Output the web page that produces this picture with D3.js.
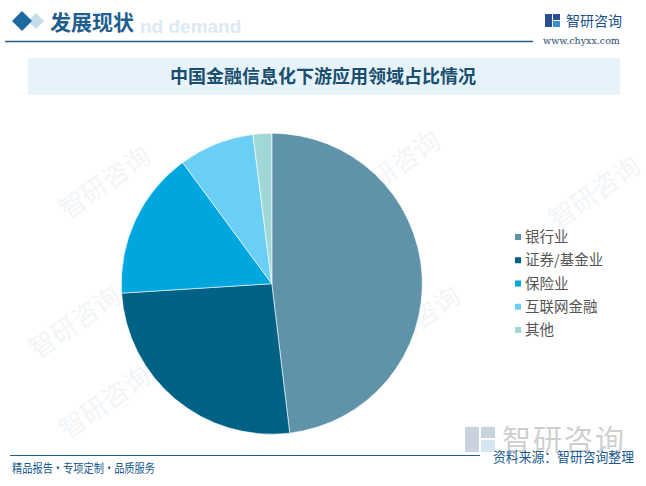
<!DOCTYPE html>
<html><head><meta charset="utf-8">
<script src="https://cdn.jsdelivr.net/npm/d3@7/dist/d3.min.js"></script>
<style>body{margin:0;background:#fff}svg{display:block}</style>
</head><body>
<svg id="c" width="646" height="486"></svg>
<script>
const categories = ["银行业", "证券/基金业", "保险业", "互联网金融", "其他"];
const values = [48.1, 25.9, 15.9, 8.1, 2.0];
const colors = ["#5e93a9", "#006186", "#00a6de", "#6bcff5", "#a1d8d6"];

const svg = d3.select("#c");
const CJK = "'Noto Sans CJK SC','Noto Sans',sans-serif";

// faint background watermarks
const wm = svg.append("g").attr("fill", "#f2f5f8").attr("font-family", CJK).attr("font-size", 26);
[[110,190],[400,175],[80,330],[600,200],[420,330],[110,410]].forEach(p=>{
  wm.append("text").attr("transform",`translate(${p[0]},${p[1]}) rotate(-35)`).attr("text-anchor","middle").text("智研咨询");
});

// header
svg.append("text").attr("x",140).attr("y",33).attr("font-family","Arial,sans-serif").attr("font-weight","bold")
  .attr("font-size",19).attr("fill","#dceaf5").text("nd demand");
svg.append("path").attr("d","M28,21 L36,13 L44,21 L36,29 Z").attr("fill","#c5dcea");
svg.append("path").attr("d","M12,21 L22,11 L32,21 L22,31 Z").attr("fill","#1c69a2");
svg.append("text").attr("x",50).attr("y",30).attr("font-family",CJK).attr("font-weight","bold")
  .attr("font-size",21).attr("fill","#1f5f8f").text("发展现状");
svg.append("line").attr("x1",5).attr("x2",533).attr("y1",41.5).attr("y2",41.5).attr("stroke","#1f5f8f").attr("stroke-width",1.5);

// logo top right
const lg = svg.append("g").attr("transform","translate(545,14)");
lg.append("rect").attr("x",0).attr("y",0).attr("width",7).attr("height",13).attr("fill","#2a4f8f");
lg.append("rect").attr("x",8).attr("y",0).attr("width",7).attr("height",6).attr("fill","#2a4f8f");
lg.append("rect").attr("x",8).attr("y",7).attr("width",7).attr("height",6).attr("fill","#3b8fd0");
svg.append("text").attr("x",566).attr("y",26).attr("font-family",CJK).attr("font-size",14).attr("fill","#1a4f8a").text("智研咨询");
svg.append("text").attr("x",543).attr("y",44).attr("font-family","'DejaVu Serif','Liberation Serif',serif")
  .attr("font-size",9.5).attr("fill","#2b4d6e").text("www.chyxx.com");

// title box
svg.append("rect").attr("x",28).attr("y",58).attr("width",592).attr("height",37).attr("fill","#e6f3fb");
svg.append("text").attr("x",323).attr("y",83).attr("text-anchor","middle").attr("font-family",CJK)
  .attr("font-weight","bold").attr("font-size",18).attr("fill","#1a4e6e").text("中国金融信息化下游应用领域占比情况");

// pie
const cx = 271.8, cy = 283.7, r = 150.5;
const pie = d3.pie().sort(null).value(d=>d)(values);
const arc = d3.arc().innerRadius(0).outerRadius(r);
svg.append("g").attr("transform",`translate(${cx},${cy})`)
  .selectAll("path").data(pie).join("path")
  .attr("d",arc).attr("fill",(d,i)=>colors[i]).attr("stroke","#ffffff").attr("stroke-width",0.6);

// legend
const leg = svg.append("g");
const ly = d3.scalePoint().domain(categories).range([237,330]);
categories.forEach((c,i)=>{
  leg.append("rect").attr("x",515).attr("y",ly(c)-3).attr("width",6).attr("height",6).attr("fill",colors[i]);
  leg.append("text").attr("x",525).attr("y",ly(c)+5).attr("font-family",CJK).attr("font-size",14.5)
    .attr("fill","#555").text(c);
});

// bottom watermark logo
const bl = svg.append("g").attr("transform","translate(465,427)");
bl.append("rect").attr("x",0).attr("y",0).attr("width",14).attr("height",25).attr("fill","#c9d3e0");
bl.append("rect").attr("x",16).attr("y",0).attr("width",14).attr("height",11).attr("fill","#c9d3e0");
bl.append("rect").attr("x",16).attr("y",13).attr("width",14).attr("height",12).attr("fill","#d6e6f2");
svg.append("text").attr("x",502).attr("y",451).attr("font-family",CJK).attr("font-size",29)
  .attr("fill","#cfcfcf").attr("letter-spacing",2).text("智研咨询");

// footer
svg.append("line").attr("x1",10).attr("x2",480).attr("y1",455.5).attr("y2",455.5).attr("stroke","#1f5f8f").attr("stroke-width",1.2);
svg.append("text").attr("x",493).attr("y",462).attr("font-family",CJK).attr("font-size",13.5)
  .attr("textLength",141).attr("lengthAdjust","spacingAndGlyphs")
  .attr("fill","#1a5a90").text("资料来源：智研咨询整理");
svg.append("text").attr("x",12).attr("y",473).attr("font-family",CJK).attr("font-size",12.5)
  .attr("textLength",143).attr("lengthAdjust","spacingAndGlyphs")
  .attr("fill","#1a5a90").text("精品报告・专项定制・品质服务");
</script>
</body></html>
